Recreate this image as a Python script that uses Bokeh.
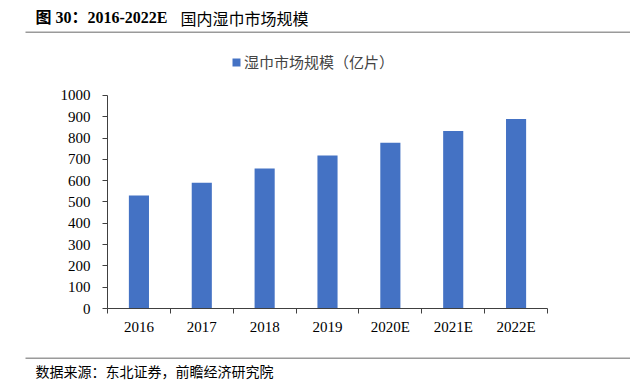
from bokeh.plotting import figure
from bokeh.layouts import column
from bokeh.models import (FixedTicker, Label, BoxAnnotation, Legend, LegendItem,
                          Range1d, ColumnDataSource)
from bokeh.embed import file_html
from bokeh.resources import INLINE

# ---- data ----
years = ["2016", "2017", "2018", "2019", "2020E", "2021E", "2022E"]
market = [530, 590, 657, 718, 778, 833, 890]
y_ticks = [0, 100, 200, 300, 400, 500, 600, 700, 800, 900, 1000]
title_bold = "图 30：2016-2022E"
title_rest = "国内湿巾市场规模"
series_name = "湿巾市场规模（亿片）"
source_text = "数据来源：东北证券，前瞻经济研究院"

SERIF = "Liberation Serif, Noto Sans CJK SC"
CJK = "Noto Sans CJK SC"
BAR = "#4472C4"
AXIS = "#404040"
RULE = "#9a9a9a"
W = 630


def strip(height):
    """A bare figure used as a text strip (no axes, frame = whole strip)."""
    f = figure(width=W, height=height, output_backend="svg",
               toolbar_location=None, x_axis_location=None,
               y_axis_location=None, x_range=Range1d(0, W),
               y_range=Range1d(height, 0), min_border=0, frame_align=False)
    f.outline_line_color = None
    f.xgrid.visible = False
    f.ygrid.visible = False
    f.border_fill_color = "white"
    f.background_fill_color = "white"
    return f


# ---- title strip ----
ft = strip(33)
ft.add_layout(Label(x=35, y=17, text=title_bold, text_font=SERIF,
                    text_font_size="16px", text_font_style="bold",
                    text_baseline="middle", text_align="left",
                    text_color="black"))
ft.add_layout(Label(x=180, y=17, text=title_rest, text_font=CJK,
                    text_font_size="16px", text_baseline="middle",
                    text_align="left", text_color="black"))
ft.add_layout(BoxAnnotation(left=25, right=W, top=31, bottom=32.5,
                            fill_color=RULE, fill_alpha=1, line_color=None))

# ---- main chart ----
pos = [i + 0.5 for i in range(len(years))]
src = ColumnDataSource(dict(x=pos, top=market, year=years))

p = figure(width=W, height=323, output_backend="svg", toolbar_location=None,
           x_range=Range1d(0, len(years)), y_range=Range1d(0, 1258),
           min_border_left=107, min_border_right=83, min_border_top=7,
           min_border_bottom=48, frame_align=False)
p.outline_line_color = None
p.xgrid.visible = False
p.ygrid.visible = False
p.background_fill_color = "white"
p.border_fill_color = "white"

r = p.vbar(x="x", top="top", bottom=0, width=0.32, source=src,
           fill_color=BAR, line_color=None)

xa = p.xaxis[0]
xa.ticker = FixedTicker(ticks=pos, minor_ticks=list(range(len(years) + 1)))
xa.major_label_overrides = {x: y for x, y in zip(pos, years)}
xa.major_tick_in = 0
xa.major_tick_out = 0
xa.minor_tick_in = 0
xa.minor_tick_out = 5
xa.minor_tick_line_color = AXIS
xa.axis_line_color = AXIS
xa.major_label_standoff = 5
xa.major_label_text_font = SERIF
xa.major_label_text_font_size = "15px"
xa.major_label_text_color = "black"

ya = p.yaxis[0]
ya.ticker = FixedTicker(ticks=y_ticks)
ya.bounds = (0, 1000)
ya.major_tick_in = 0
ya.major_tick_out = 5
ya.minor_tick_line_color = None
ya.major_tick_line_color = AXIS
ya.axis_line_color = AXIS
ya.major_label_standoff = 12
ya.major_label_text_font = SERIF
ya.major_label_text_font_size = "15px"
ya.major_label_text_color = "black"

legend = Legend(items=[LegendItem(label=series_name, renderers=[r])],
                location=(124, 236), orientation="horizontal",
                border_line_color=None, background_fill_alpha=0,
                padding=0, margin=0, glyph_width=10, glyph_height=10,
                label_standoff=3, label_text_font=CJK,
                label_text_font_size="15px", label_height=10)
p.add_layout(legend)

# ---- source strip ----
fs = strip(24)
fs.add_layout(BoxAnnotation(left=25, right=W, top=1, bottom=2.5,
                            fill_color=RULE, fill_alpha=1, line_color=None))
fs.add_layout(Label(x=35, y=14, text=source_text, text_font=CJK,
                    text_font_size="14px", text_baseline="middle",
                    text_align="left", text_color="black"))

layout = column(ft, p, fs, spacing=0)
open("out.html", "w").write(file_html(layout, INLINE))
